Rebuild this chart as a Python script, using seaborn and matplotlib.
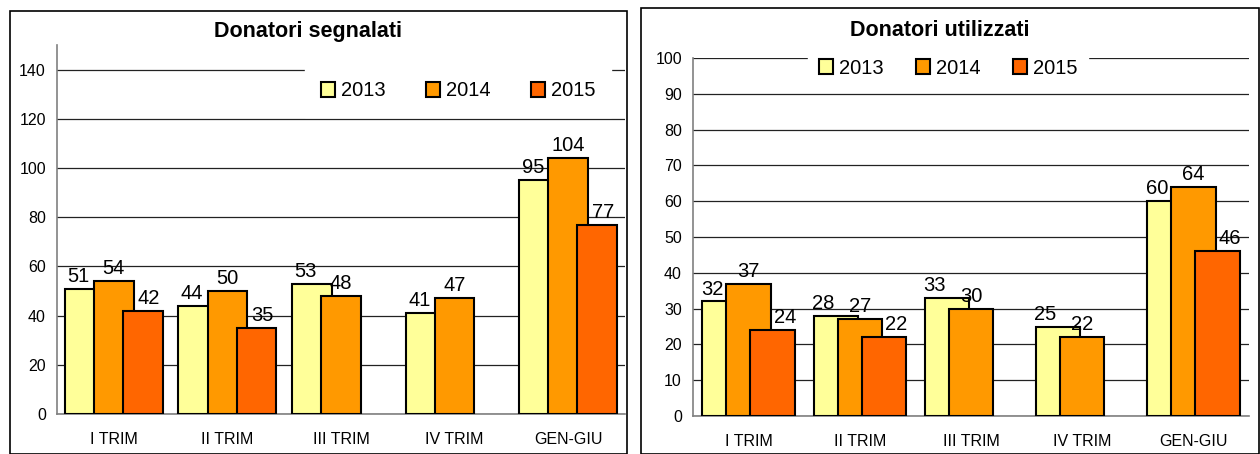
import numpy as np
import matplotlib
matplotlib.use("Agg")
import matplotlib.pyplot as plt
import seaborn as sns
from matplotlib.patches import Rectangle

# data
categories = ["I TRIM", "II TRIM", "III TRIM", "IV TRIM", "GEN-GIU"]
years = ["2013", "2014", "2015"]

segnalati_2013 = [51, 44, 53, 41, 95]
segnalati_2014 = [54, 50, 48, 47, 104]
segnalati_2015 = [42, 35, np.nan, np.nan, 77]

utilizzati_2013 = [32, 28, 33, 25, 60]
utilizzati_2014 = [37, 27, 30, 22, 64]
utilizzati_2015 = [24, 22, np.nan, np.nan, 46]

colors = ["#FFFF99", "#FF9900", "#FF6600"]

sns.set_style("white")
plt.rcParams["font.family"] = ["Liberation Sans", "DejaVu Sans"]
plt.rcParams["text.color"] = "black"
plt.rcParams["xtick.color"] = "black"
plt.rcParams["ytick.color"] = "black"

fig = plt.figure(figsize=(12.6, 4.54), dpi=100)

# panel frames
fig.patches.append(Rectangle((10 / 1260, 0), 617 / 1260, 1 - 11 / 454, transform=fig.transFigure,
                             fill=False, edgecolor="black", linewidth=1.2))
fig.patches.append(Rectangle((641 / 1260, 0), 618 / 1260, 1 - 8 / 454, transform=fig.transFigure,
                             fill=False, edgecolor="black", linewidth=1.2))


def draw_panel(ax, series, width, step, label_step, ymax, ystep):
    idx = np.arange(len(categories))
    for i, (vals, c) in enumerate(zip(series, colors)):
        pos = idx + (i - 1) * step
        sns.barplot(x=pos, y=vals, native_scale=True, width=width, color=c,
                    edgecolor="black", linewidth=1.5, errorbar=None, ax=ax,
                    saturation=1, label=years[i], zorder=3 + i)
        for p, v in zip(idx + (i - 1) * label_step, vals):
            if not np.isnan(v):
                ax.text(p, v + ymax * 0.008, f"{v:.0f}", ha="center", va="bottom",
                        fontsize=14.5, zorder=10)
    if ax.get_legend() is not None:
        ax.get_legend().remove()
    ax.set_xlim(-0.5, len(categories) - 0.5)
    ax.set_ylim(0, ymax)
    ax.set_yticks(np.arange(0, ymax + 0.1, ystep) if ymax % ystep == 0 else np.arange(0, ymax, ystep))
    ax.set_xticks(idx)
    ax.set_xticklabels(categories, fontsize=11.5)
    ax.set_xticks(np.arange(-0.5, len(categories)), minor=True)
    ax.tick_params(axis="x", which="major", length=0, pad=13)
    ax.tick_params(axis="x", which="minor", length=5, color="#808080", direction="out")
    ax.tick_params(axis="y", length=5, color="#808080", direction="out", labelsize=11.5, pad=3)
    ax.yaxis.grid(True, color="#222222", linewidth=0.9)
    ax.set_axisbelow(True)
    for s in ["top", "right"]:
        ax.spines[s].set_visible(False)
    for s in ["left", "bottom"]:
        ax.spines[s].set_color("#808080")
        ax.spines[s].set_linewidth(1.2)
    ax.set_xlabel("")
    ax.set_ylabel("")


ax1 = fig.add_axes([57 / 1260, 1 - 414 / 454, 568 / 1260, 369 / 454])
draw_panel(ax1, [segnalati_2013, segnalati_2014, segnalati_2015],
           width=0.35, step=0.256, label_step=0.31, ymax=150, ystep=20)

ax2 = fig.add_axes([693 / 1260, 1 - 416 / 454, 556 / 1260, 358 / 454])
draw_panel(ax2, [utilizzati_2013, utilizzati_2014, utilizzati_2015],
           width=0.40, step=0.216, label_step=0.33, ymax=100, ystep=10)

fig.text(308 / 1260, 1 - 31 / 454, "Donatori segnalati", ha="center", va="center",
         fontsize=15.5, fontweight="bold")
fig.text(940 / 1260, 1 - 31 / 454, "Donatori utilizzati", ha="center", va="center",
         fontsize=15.5, fontweight="bold")

for ax, anchor, colsp, bp in [(ax1, (458 / 1260, 1 - 91 / 454), 2.0, 0.8),
                              (ax2, (948 / 1260, 1 - 68 / 454), 1.6, 0.55)]:
    h, l = ax.get_legend_handles_labels()
    leg = fig.legend(h[:3], l[:3], loc="center", bbox_to_anchor=anchor, ncol=3,
                     fontsize=14.5, frameon=True, facecolor="white", edgecolor="white",
                     framealpha=1, handlelength=0.7, handleheight=0.7, handletextpad=0.3,
                     columnspacing=colsp, borderpad=bp, fancybox=False)
    leg.set_zorder(20)

fig.savefig("out.png", dpi=100)
